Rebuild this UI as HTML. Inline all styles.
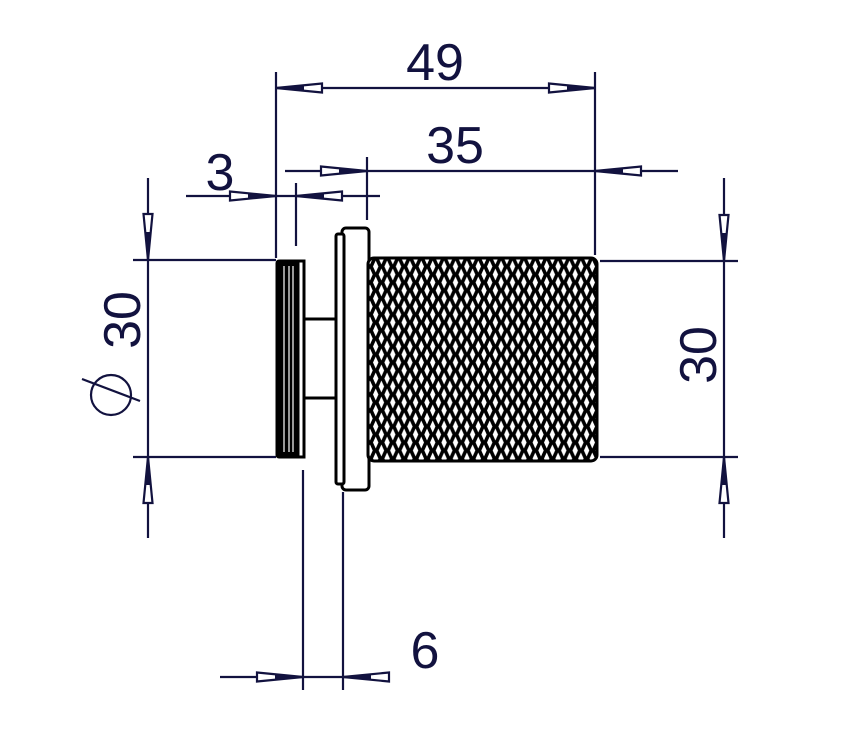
<!DOCTYPE html>
<html><head><style>html,body{margin:0;padding:0;background:#fff}svg{display:block}</style></head>
<body>
<svg width="866" height="734" viewBox="0 0 866 734" xmlns="http://www.w3.org/2000/svg">
<defs>
<pattern id="kn" x="370" y="260" width="11.4" height="16" patternUnits="userSpaceOnUse">
<rect width="11.4" height="16" fill="#000"/>
<polygon points="5.7,0.5 8.4,6.5 5.7,12.5 3,6.5" fill="#fff"/>
<polygon points="0,8.5 2.7,14.5 0,20.5 -2.7,14.5" fill="#fff"/>
<polygon points="11.4,8.5 14.1,14.5 11.4,20.5 8.7,14.5" fill="#fff"/>
<polygon points="0,-7.5 2.7,-1.5 0,4.5 -2.7,-1.5" fill="#fff"/>
<polygon points="11.4,-7.5 14.1,-1.5 11.4,4.5 8.7,-1.5" fill="#fff"/>
</pattern>
<g id="ar">
<polygon points="0,0 -46,-4.5 -46,4.5" fill="#fff" stroke="#12123f" stroke-width="2.2"/>
<polygon points="0,0 -28,-2.5 -28,2.5" fill="#12123f"/>
</g>
</defs>
<g stroke="#12123f" stroke-width="2.2" fill="none">
<line x1="276" y1="72" x2="276" y2="258"/>
<line x1="595" y1="72" x2="595" y2="255"/>
<line x1="276" y1="88" x2="595" y2="88"/>
<line x1="285" y1="171" x2="678" y2="171"/>
<line x1="367" y1="157" x2="367" y2="220"/>
<line x1="186" y1="196" x2="380" y2="196"/>
<line x1="296" y1="183" x2="296" y2="246"/>
<line x1="148" y1="178" x2="148" y2="538"/>
<line x1="133" y1="260" x2="276" y2="260"/>
<line x1="133" y1="457" x2="276" y2="457"/>
<line x1="724" y1="178" x2="724" y2="538"/>
<line x1="600" y1="261" x2="738" y2="261"/>
<line x1="600" y1="457" x2="738" y2="457"/>
<line x1="303" y1="470" x2="303" y2="690"/>
<line x1="343" y1="492" x2="343" y2="690"/>
<line x1="220" y1="677" x2="390" y2="677"/>
<circle cx="111" cy="395" r="20"/>
<line x1="82" y1="379" x2="140" y2="401"/>
</g>
<use href="#ar" transform="translate(276,88) rotate(180)"/>
<use href="#ar" transform="translate(595,88)"/>
<use href="#ar" transform="translate(367,171)"/>
<use href="#ar" transform="translate(595,171) rotate(180)"/>
<use href="#ar" transform="translate(276,196)"/>
<use href="#ar" transform="translate(296,196) rotate(180)"/>
<use href="#ar" transform="translate(148,260) rotate(90)"/>
<use href="#ar" transform="translate(148,457) rotate(-90)"/>
<use href="#ar" transform="translate(724,261) rotate(90)"/>
<use href="#ar" transform="translate(724,457) rotate(-90)"/>
<use href="#ar" transform="translate(303,677)"/>
<use href="#ar" transform="translate(343,677) rotate(180)"/>
<g stroke="#000" stroke-width="3" fill="#fff">
<line x1="304" y1="319" x2="340" y2="319"/>
<line x1="304" y1="398" x2="340" y2="398"/>
<rect x="277" y="261" width="27" height="196" rx="2" fill="#000"/>
<rect x="298" y="261" width="6" height="196" fill="#fff"/>
<rect x="342" y="228" width="27" height="262" rx="4"/>
<rect x="336" y="234" width="8" height="250" rx="2"/>
<rect x="368" y="258" width="229" height="203" rx="6" fill="url(#kn)"/>
</g>
<g stroke="#fff" stroke-width="1.2">
<line x1="284" y1="266" x2="284" y2="452"/>
<line x1="289" y1="266" x2="289" y2="452"/>
<line x1="293" y1="266" x2="293" y2="452"/>
</g>
<g fill="#12123f" font-family="Liberation Sans, sans-serif" font-size="52">
<text x="435" y="80" text-anchor="middle">49</text>
<text x="455" y="163" text-anchor="middle">35</text>
<text x="220" y="190" text-anchor="middle">3</text>
<text x="425" y="668" text-anchor="middle">6</text>
<text transform="translate(140,320) rotate(-90)" text-anchor="middle">30</text>
<text transform="translate(716,355) rotate(-90)" text-anchor="middle">30</text>
</g>
</svg>
</body></html>
